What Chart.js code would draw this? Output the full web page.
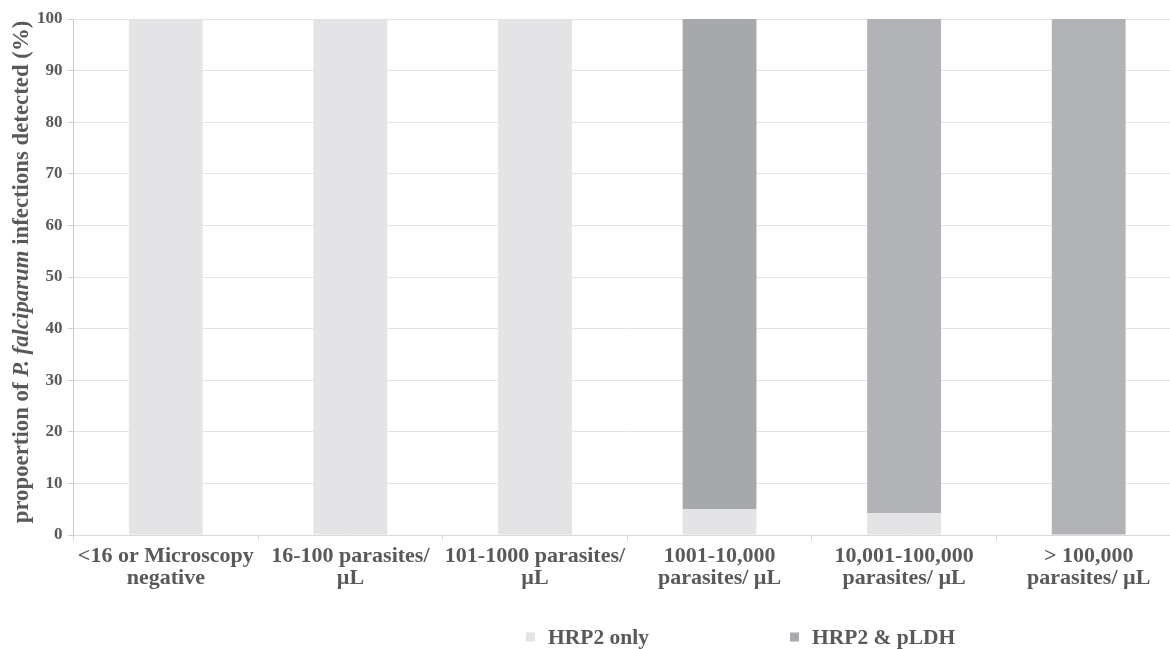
<!DOCTYPE html>
<html>
<head>
<meta charset="utf-8">
<script src="https://cdn.jsdelivr.net/npm/chart.js@4.4.0/dist/chart.umd.min.js"></script>
<style>
  html, body { margin: 0; padding: 0; background: #fff; overflow: hidden; }
  #wrap { position: relative; width: 1181px; height: 649px; }
</style>
</head>
<body>
<div id="wrap"><canvas id="chart"></canvas></div>
<script>
var categories = [
  ["<16 or Microscopy", "negative"],
  ["16-100 parasites/", "µL"],
  ["101-1000 parasites/", "µL"],
  ["1001-10,000", "parasites/ µL"],
  ["10,001-100,000", "parasites/ µL"],
  ["> 100,000", "parasites/ µL"]
];
var seriesNames = ["HRP2 only", "HRP2 & pLDH"];
var hrp2Only = [100, 100, 100, 5, 4.2, 0];
var hrp2Pldh = [0, 0, 0, 95, 95.8, 100];
var yTicks = [0, 10, 20, 30, 40, 50, 60, 70, 80, 90, 100];

var textColor = "#595959";
var serif = "'Liberation Serif', 'Times New Roman', serif";

// y axis title, part of it in italics
var yTitlePlugin = {
  id: "yTitle",
  afterDraw: function (chart) {
    var ctx = chart.ctx;
    var area = chart.chartArea;
    var size = "22.8px ";
    var parts = [
      ["propoertion of ", "bold " + size + serif],
      ["P. falciparum", "italic bold " + size + serif],
      [" infections detected (%)", "bold " + size + serif]
    ];
    ctx.save();
    var total = 0;
    parts.forEach(function (p) {
      ctx.font = p[1];
      total += ctx.measureText(p[0]).width;
    });
    ctx.translate(28, (area.top + area.bottom) / 2 - 5);
    ctx.rotate(-Math.PI / 2);
    ctx.fillStyle = textColor;
    ctx.textBaseline = "alphabetic";
    ctx.textAlign = "left";
    var x = -total / 2;
    parts.forEach(function (p) {
      ctx.font = p[1];
      ctx.fillText(p[0], x, 0);
      x += ctx.measureText(p[0]).width;
    });
    ctx.restore();
  }
};

// legend with wide gap between the two items
var legendPlugin = {
  id: "wideLegend",
  afterDraw: function (chart) {
    var ctx = chart.ctx;
    var y = 637;
    var starts = [526, 790];
    ctx.save();
    ctx.font = "bold 21.5px " + serif;
    ctx.textBaseline = "middle";
    chart.data.datasets.forEach(function (ds, i) {
      ctx.fillStyle = ds.legendColor;
      ctx.fillRect(starts[i], y - 4.5, 9, 9);
      ctx.fillStyle = textColor;
      ctx.fillText(ds.label, starts[i] + 22, y + 1);
    });
    ctx.restore();
  }
};

var ctx = document.getElementById("chart").getContext("2d");
var chart = new Chart(ctx, {
  type: "bar",
  data: {
    labels: categories,
    datasets: [
      {
        label: seriesNames[0],
        data: hrp2Only,
        backgroundColor: "#e4e4e6",
        legendColor: "#e4e4e6",
        barPercentage: 0.4,
        categoryPercentage: 1.0
      },
      {
        label: seriesNames[1],
        data: hrp2Pldh,
        backgroundColor: ["#a6a9ac", "#a6a9ac", "#a6a9ac", "#a6a9ac", "#b2b3b6", "#b2b3b6"],
        legendColor: "#a9aaad",
        barPercentage: 0.4,
        categoryPercentage: 1.0
      }
    ]
  },
  options: {
    responsive: true,
    maintainAspectRatio: false,
    animation: false,
    layout: { padding: { left: 32, top: 19, right: 0, bottom: 56 } },
    plugins: {
      legend: { display: false },
      tooltip: { enabled: false }
    },
    scales: {
      x: {
        stacked: true,
        grid: {
          display: true,
          drawOnChartArea: false,
          tickLength: 6,
          tickColor: "#d9d9d9"
        },
        border: { color: "#d9d9d9" },
        ticks: {
          color: textColor,
          maxRotation: 0,
          autoSkip: false,
          padding: 4,
          font: { family: serif, size: 22, weight: "bold", lineHeight: 1.0 }
        }
      },
      y: {
        stacked: true,
        min: 0,
        max: 100,
        afterBuildTicks: function (axis) {
          axis.ticks = yTicks.map(function (v) { return { value: v }; });
        },
        grid: {
          color: "#e3e3e3",
          tickLength: 6,
          tickColor: "#d0d0d0"
        },
        border: { color: "#c8c8c8" },
        ticks: {
          color: textColor,
          padding: 5,
          font: { family: serif, size: 17, weight: "bold" }
        }
      }
    }
  },
  plugins: [yTitlePlugin, legendPlugin]
});
</script>
</body>
</html>
